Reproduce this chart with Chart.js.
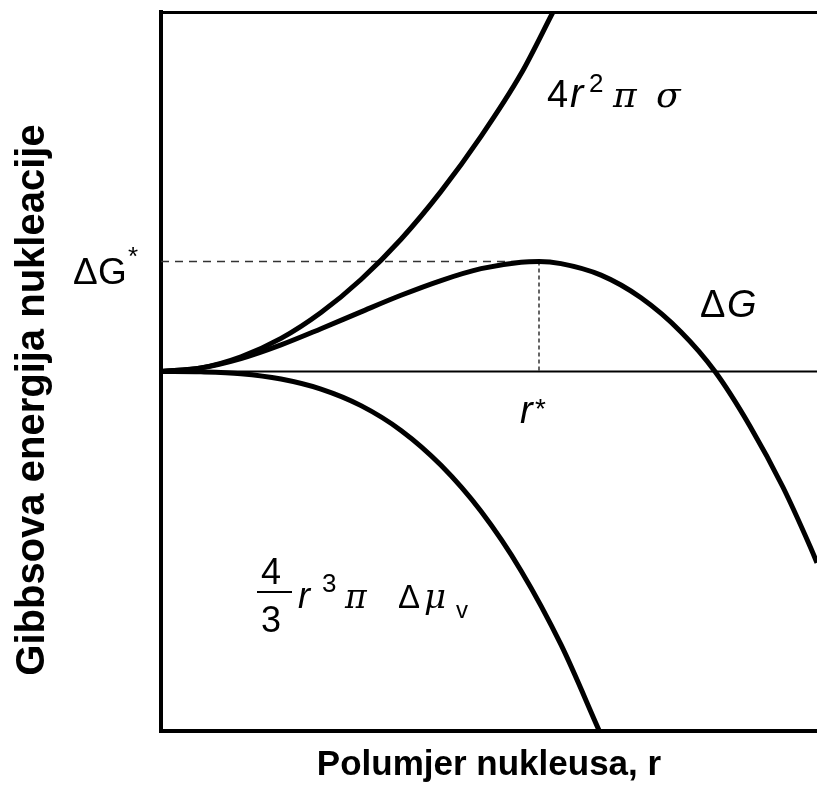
<!DOCTYPE html>
<html>
<head>
<meta charset="utf-8">
<script src="https://cdn.jsdelivr.net/npm/chart.js@4"></script>
<style>
  html, body { margin: 0; padding: 0; background: #fff; }
  #wrap { width: 817px; height: 789px; }
</style>
</head>
<body>
<div id="wrap"><canvas id="chart"></canvas></div>
<script>
// values (r and energy in arbitrary units)
const rSurface = [0, 1, 2, 3, 4, 5, 6, 7, 8, 9, 9.8];
const gSurface = [0, 0.1, 0.41, 0.92, 1.64, 2.56, 3.68, 5.01, 6.54, 8.28, 10];

const rVolume = [0, 1, 2, 3, 4, 5, 6, 7, 8, 9, 10, 10.95];
const gVolume = [0, -0.01, -0.06, -0.21, -0.49, -0.95, -1.64, -2.61, -3.89, -5.54, -7.6, -9.98];

const rTotal = [0, 1, 2, 3, 4, 5, 6, 7, 8, 9, 9.45, 10, 11, 12, 13, 13.85, 14.725, 15.55, 16.225, 16.4];
const gTotal = [0, 0.1, 0.36, 0.74, 1.19, 1.66, 2.12, 2.53, 2.86, 3.04, 3.06, 3.0, 2.68, 2.05, 1.1, 0, -1.52, -3.22, -4.86, -5.32];

const rStar = 9.45;
const gStar = 3.06;
const rMax = 16.4;

const xTitle = "Polumjer nukleusa, r";
const yTitle = "Gibbsova energija nukleacije";

function pts(xs, ys) {
  return xs.map((v, i) => ({ x: v, y: ys[i] }));
}

const sans = '"Liberation Sans"';
const greek = '"DejaVu Serif"';

// label pieces: text, font, x, baseline
function put(ctx, pieces) {
  pieces.forEach(p => {
    ctx.font = p[1];
    ctx.fillText(p[0], p[2], p[3]);
  });
}

const annotate = {
  id: "annotate",
  afterDraw(chart) {
    const { ctx } = chart;
    ctx.save();
    ctx.fillStyle = "#000";

    // y axis title
    ctx.save();
    ctx.translate(33, 400);
    ctx.rotate(-Math.PI / 2);
    ctx.textAlign = "center";
    ctx.textBaseline = "middle";
    ctx.font = "bold 40px " + sans;
    ctx.fillText(yTitle, 0, 0);
    ctx.restore();

    ctx.textAlign = "left";
    ctx.textBaseline = "alphabetic";

    put(ctx, [
      // ΔG*
      ["Δ", "37px " + sans, 73, 284],
      ["G", "37px " + sans, 98, 284],
      ["*", "26px " + sans, 128, 265],
      // 4r²πσ
      ["4", "38px " + sans, 547, 107],
      ["r", "italic 40px " + sans, 570, 107],
      ["2", "26px " + sans, 589, 92],
      ["π", "italic 36px " + greek, 613, 107],
      ["σ", "italic 36px " + greek, 656, 107],
      // ΔG
      ["Δ", "38px " + sans, 700, 317],
      ["G", "italic 38px " + sans, 727, 317],
      // r*
      ["r", "italic 38px " + sans, 520, 423],
      ["*", "28px " + sans, 535, 418],
      // 4/3 r³π Δμv
      ["4", "36px " + sans, 261, 584],
      ["3", "36px " + sans, 261, 632],
      ["r", "italic 36px " + sans, 298, 608],
      ["3", "26px " + sans, 322, 592],
      ["π", "italic 33px " + greek, 345, 608],
      ["Δ", "33px " + sans, 398, 608],
      ["μ", "italic 34px " + greek, 424, 608],
      ["v", "24px " + sans, 456, 618]
    ]);
    ctx.fillRect(257, 591, 35, 2);

    ctx.restore();
  }
};

const curve = { showLine: true, pointRadius: 0, borderColor: "#000", borderWidth: 5, cubicInterpolationMode: "monotone", fill: false };

const data = {
  datasets: [
    { ...curve, label: "4r²πσ", data: pts(rSurface, gSurface) },
    { ...curve, label: "ΔG", data: pts(rTotal, gTotal) },
    { ...curve, label: "4/3 r³π Δμv", data: pts(rVolume, gVolume) },
    { showLine: true, pointRadius: 0, borderColor: "#000", borderWidth: 2, label: "baseline", data: [{ x: 0, y: 0 }, { x: rMax, y: 0 }] },
    { showLine: true, pointRadius: 0, borderColor: "#333", borderWidth: 1.5, borderDash: [8, 6], label: "ΔG*", data: [{ x: 0, y: gStar }, { x: rStar, y: gStar }] },
    { showLine: true, pointRadius: 0, borderColor: "#333", borderWidth: 1.5, borderDash: [4, 3], label: "r*", data: [{ x: rStar, y: gStar }, { x: rStar, y: 0 }] }
  ]
};

const frame = { display: true, drawOnChartArea: false, drawTicks: false };

const config = {
  type: "scatter",
  data: data,
  options: {
    responsive: true,
    maintainAspectRatio: false,
    animation: false,
    layout: { padding: 0 },
    plugins: { legend: { display: false }, tooltip: { enabled: false } },
    scales: {
      x: {
        type: "linear",
        position: "bottom",
        min: 0,
        max: rMax,
        ticks: { display: false },
        grid: frame,
        border: { display: true, color: "#000", width: 4 },
        title: {
          display: true,
          text: xTitle,
          color: "#000",
          font: { family: "Liberation Sans", size: 35, weight: "bold" },
          padding: { top: 0, bottom: 3 }
        },
        afterFit: s => { s.height = 58; }
      },
      x2: {
        type: "linear",
        position: "top",
        min: 0,
        max: rMax,
        ticks: { display: false },
        grid: frame,
        border: { display: true, color: "#000", width: 3 },
        afterFit: s => { s.height = 12; }
      },
      y: {
        type: "linear",
        position: "left",
        min: -10,
        max: 10,
        ticks: { display: false },
        grid: frame,
        border: { display: true, color: "#000", width: 4 },
        afterFit: s => { s.width = 161; }
      }
    }
  },
  plugins: [annotate]
};

let chart = new Chart(document.getElementById("chart"), config);
</script>
</body>
</html>
